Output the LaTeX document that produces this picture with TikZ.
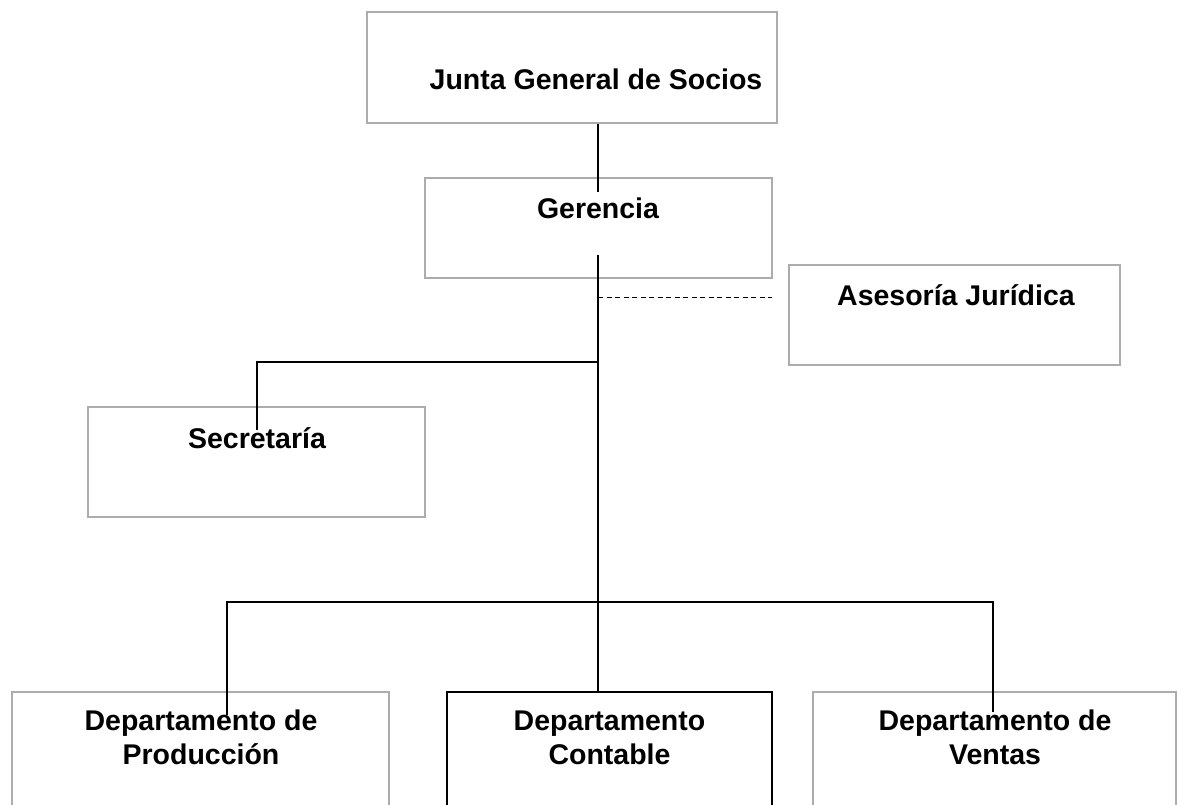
\documentclass[tikz,border=0pt]{standalone}
\usepackage{fontspec}
\setmainfont{Liberation Sans}
\usetikzlibrary{positioning}

\begin{document}
\begin{tikzpicture}[
  x=1pt, y=-1pt,
  font=\fontsize{28.5}{34}\selectfont\bfseries,
  box/.style={draw=gray!65, line width=2.6pt, inner sep=0pt},
  blackbox/.style={box, draw=black, line width=2pt},
  lbl/.style={anchor=base, align=center, inner sep=0pt},
  link/.style={line width=1.2pt, black},
  dotlink/.style={line width=1pt, black, dash pattern=on 5pt off 3.5pt},
]
\useasboundingbox (0,0) rectangle (1178,805);
\clip (0,0) rectangle (1178,805);

% boxes
\node[box, minimum width=410pt, minimum height=111pt] (junta) at (572,67.5) {};
\node[box, minimum width=347pt, minimum height=100pt] (gerencia) at (598.5,228) {};
\node[box, minimum width=331pt, minimum height=100pt] (asesoria) at (954.5,315) {};
\node[box, minimum width=337pt, minimum height=110pt] (secretaria) at (256.5,462) {};
\node[box, minimum width=377pt, minimum height=160pt] (produccion) at (200.5,772) {};
\node[blackbox, minimum width=325pt, minimum height=160pt] (contable) at (609.5,772) {};
\node[box, minimum width=363pt, minimum height=160pt] (ventas) at (994.5,772) {};

% texts (base = last line)
\node[lbl] (juntaText) at (596,90) {Junta General de Socios};
\node[lbl] (gerenciaText) at (598,219) {Gerencia};
\node[lbl] (asesoriaText) at (956,305) {Asesoría Jurídica};
\node[lbl] (secretariaText) at (257,448) {Secretaría};
\node[lbl] (produccionText) at (201,764) {Departamento de\\Producción};
\node[lbl] (contableText) at (609.5,764) {Departamento\\Contable};
\node[lbl] (ventasText) at (995,764) {Departamento de\\Ventas};

% connectors
\coordinate (gerTop) at (598,192);
\coordinate (gerBot) at (598,255);
\coordinate (asesJoin) at (598,297);
\coordinate (asesEnd) at (772,297);
\coordinate (secJoin) at (598,362);
\coordinate (secTop) at (257,430);
\coordinate (busL) at (227,602);
\coordinate (busR) at (993,602);
\coordinate (prodTop) at (227,715);
\coordinate (ventasTop) at (993,712);

\draw[link] (junta.south -| gerTop) -- (gerTop);
\draw[link] (gerBot) -- (contable.north -| gerBot);
\draw[dotlink] (asesJoin) -- (asesEnd);
\draw[link] (secJoin) -| (secTop);
\draw[link] (prodTop) -- (busL) -- (busR) -- (ventasTop);

\end{tikzpicture}
\end{document}
